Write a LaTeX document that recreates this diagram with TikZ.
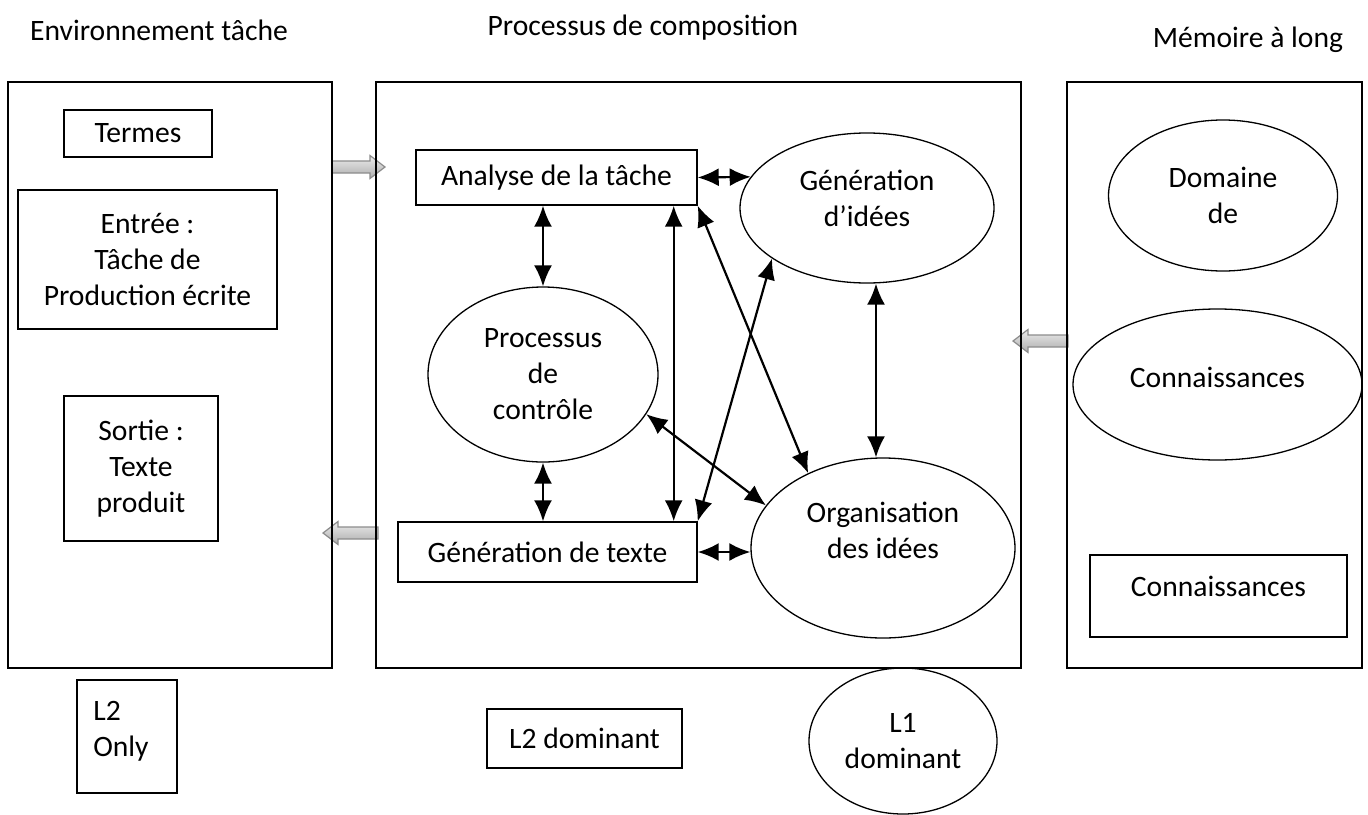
\documentclass[tikz,border=0pt]{standalone}
\usepackage{fontspec}
\setmainfont{Carlito}
\usetikzlibrary{shapes.geometric,arrows.meta,calc}
\begin{document}
\begin{tikzpicture}[x=1pt,y=-1pt,
  every node/.style={font=\fontsize{29.6}{36}\selectfont, align=center, inner sep=0pt},
  panel/.style={draw, line width=1.5pt},
  box/.style={draw, line width=1.4pt},
  oval/.style={draw, ellipse, line width=1.3pt},
  link/.style={line width=2.2pt, {Latex[length=21pt,width=18pt]}-{Latex[length=21pt,width=18pt]}},
  hollowarrow/.style={draw=gray!90, line width=1.2pt, top color=gray!15, bottom color=gray!65},
  title/.style={}
]
\useasboundingbox (0,0) rectangle (1368,814);

% hollow transfer arrows (drawn first, panel borders pass over them)
\draw[hollowarrow] (332,161) -- (370,161) -- (370,155.5) -- (385,167) -- (370,178.5) -- (370,173) -- (332,173) -- cycle;
\draw[hollowarrow] (378,527) -- (338,527) -- (338,521.5) -- (323,533) -- (338,544.5) -- (338,539) -- (378,539) -- cycle;
\draw[hollowarrow] (1068,335) -- (1028,335) -- (1028,329.5) -- (1013,341) -- (1028,352.5) -- (1028,347) -- (1068,347) -- cycle;

% titles
\node[title] (tenv) at (159,30) {Environnement tâche};
\node[title] (tproc) at (643,28) {Processus de composition};
\node[title] (tmem) at (1248,40) {Mémoire à long};

% panels
\node[panel, minimum width=324, minimum height=586] (envpanel) at (170,375) {};
\node[panel, minimum width=645, minimum height=586] (procpanel) at (698.5,375) {};
\node[panel, minimum width=295, minimum height=586] (mempanel) at (1214.5,375) {};

% left panel
\node[box, minimum width=148, minimum height=47] (termes) at (138,133.5) {Termes};
\node[box, minimum width=259, minimum height=139] (entree) at (147.5,259.5) {Entrée :\\Tâche de\\Production écrite};
\node[box, minimum width=154, minimum height=145] (sortie) at (141,468.5) {Sortie :\\Texte\\produit};

% middle panel
\node[box, minimum width=281, minimum height=55] (analyse) at (556.5,177.5) {Analyse de la tâche};
\node[box, minimum width=299, minimum height=60] (texte) at (547.5,552) {Génération de texte};
\node[oval, minimum width=254, minimum height=150] (genid) at (867,208) {};
\node (genidtxt) at (867,198) {Génération\\d’idées};
\node[oval, minimum width=230, minimum height=175] (ctrl) at (543,374.5) {Processus\\de\\contrôle};
\node[oval, minimum width=264, minimum height=180] (org) at (883,548) {};
\node (orgtxt) at (883,530) {Organisation\\des idées};

% right panel
\node[oval, minimum width=229, minimum height=151] (domaine) at (1223,195.5) {Domaine\\de};
\node[oval, minimum width=289, minimum height=151] (connell) at (1217.5,384.5) {};
\node (conntxt) at (1217.5,377) {Connaissances};
\node[box, minimum width=257, minimum height=82] (connbox) at (1218.5,596) {};
\node (connboxtxt) at (1218.5,586) {Connaissances};

% bottom
\node[box, minimum width=100, minimum height=113] (l2only) at (127,736.5) {};
\node[align=left] (l2onlytxt) at (121,731) {L2\\Only};
\node[box, minimum width=195, minimum height=59] (l2dom) at (584.5,738.5) {L2 dominant};
\node[oval, minimum width=188, minimum height=146] (l1dom) at (903,741) {L1\\dominant};

% connectors
\draw[link] (analyse.east) -- (genid.165);
\draw[link] (ctrl.north |- analyse.south) -- (ctrl.north);
\draw[link] (ctrl.south) -- (ctrl.south |- texte.north);
\draw[link] ($(analyse.south east)+(-24,0)$) -- ($(texte.north east)+(-24,0)$);
\draw[link] (analyse.south east) -- (org.135);
\draw[link] (texte.north east) -- (genid.208);
\draw[link] (ctrl.339) -- (org.160);
\draw[link] ($(genid.south)+(9,0)$) -- ($(org.north)+(-7,0)$);
\draw[link] (texte.east) -- (texte.east -| org.west);
\end{tikzpicture}
\end{document}
